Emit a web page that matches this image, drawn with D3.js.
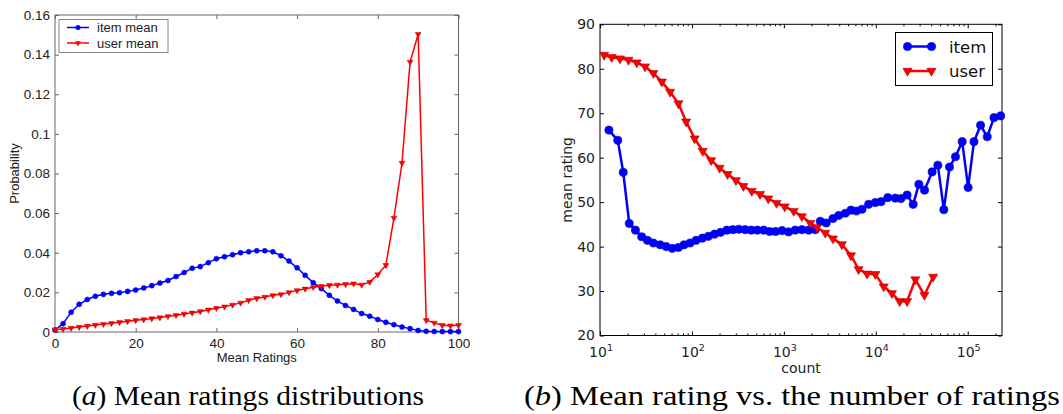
<!DOCTYPE html>
<html><head><meta charset="utf-8">
<script src="https://cdn.jsdelivr.net/npm/d3@7"></script>
<style>body{margin:0;background:#fff}svg{display:block}</style>
</head><body>
<svg id="c" width="1063" height="414"></svg>
<script>
// ---------- (a) data ----------
const leftX = [0,2,4,6,8,10,12,14,16,18,20,22,24,26,28,30,32,34,36,38,40,42,44,46,48,50,52,54,56,58,60,62,64,66,68,70,72,74,76,78,80,82,84,86,88,90,92,94,96,98,100];
const itemMeanProb = [0.001,0.0042,0.010,0.014,0.0164,0.018,0.019,0.0195,0.0198,0.0205,0.0212,0.0222,0.0234,0.0247,0.026,0.028,0.030,0.0322,0.033,0.035,0.037,0.038,0.039,0.040,0.0405,0.041,0.041,0.0405,0.0385,0.0358,0.0324,0.0286,0.0249,0.0219,0.0185,0.0156,0.0134,0.0114,0.0093,0.008,0.0063,0.0049,0.0037,0.0025,0.0017,0.0008,0.0004,0.0003,0.0002,0.0002,0.0002];
const userMeanProb = [0.0012,0.0015,0.0020,0.0025,0.0030,0.0035,0.0040,0.0044,0.0049,0.0054,0.0059,0.0063,0.0068,0.0073,0.0079,0.0085,0.0091,0.0097,0.0104,0.0112,0.0120,0.0128,0.0137,0.0147,0.0160,0.0170,0.0177,0.0185,0.0190,0.0200,0.0210,0.0218,0.0226,0.0231,0.0236,0.0238,0.0241,0.0244,0.0238,0.0252,0.0290,0.0337,0.0576,0.0853,0.1363,0.1503,0.0059,0.0046,0.0034,0.0032,0.0034];
const leftXTicks = [0,20,40,60,80,100];
const leftXTickLabels = ["0","20","40","60","80","100"];
const leftYTicks = [0,0.02,0.04,0.06,0.08,0.1,0.12,0.14,0.16];
const leftYTickLabels = ["0","0.02","0.04","0.06","0.08","0.1","0.12","0.14","0.16"];
const leftSeries = ["item mean","user mean"];

// ---------- (b) data ----------
const itemCount = [12.5,15.6,17.9,20.8,24.3,28.4,32.8,38.1,45.1,52.4,61.0,71.3,82.2,95.5,111,130,151,176,205,240,279,324,380,442,514,603,700,815,955,1125,1330,1570,1860,2200,2490,2890,3420,3950,4660,5370,6140,7080,8360,9890,11400,13500,16300,18800,21900,25500,29400,33900,41000,47300,55000,63400,73600,87100,101000,117000,138000,163000,193000,228000];
const itemRating = [66.2,63.9,56.7,45.2,43.7,42.2,41.4,40.8,40.4,40.0,39.6,39.8,40.4,40.8,41.4,41.9,42.3,42.8,43.2,43.7,43.8,43.9,43.8,43.7,43.7,43.7,43.4,43.4,43.6,43.3,43.7,43.8,43.7,43.8,45.7,45.3,46.3,47.0,47.5,48.2,48.0,48.4,49.5,49.9,50.1,51.0,50.9,50.8,51.6,49.5,54.0,52.7,56.8,58.3,48.3,57.9,60.2,63.6,53.3,63.6,67.3,64.7,69.0,69.4];
const userCount = [11.1,13.4,16.5,20.4,25.1,30.9,38.1,47.0,57.9,71.3,86.5,107,131,162,200,244,301,363,447,550,676,832,1020,1280,1570,1940,2290,2820,3420,4270,5370,6500,8020,9890,12200,15000,18200,21900,26900,33800,42100];
const userRating = [83.1,82.6,82.3,82.0,81.4,80.5,79.0,77.1,74.8,72.2,68.1,64.3,61.5,59.4,57.7,56.3,54.9,53.6,52.5,51.8,50.8,49.8,49.0,48.0,46.8,45.3,44.3,43.1,41.8,40.5,38.0,34.9,33.9,33.8,31.0,29.5,27.7,27.7,32.6,29.1,33.2];
const rightYTicks = [20,30,40,50,60,70,80,90];
const rightXTicks = [10,100,1000,10000,100000];
const rightXTickBase = "10";
const rightXTickExp = ["1","2","3","4","5"];
const rightSeries = ["item","user"];
const captionLetters = ["a","b"];
const captions = ["Mean ratings distributions","Mean rating vs. the number of ratings"];

const BLUE = "#0000ff", RED = "#ff0000";
const svg = d3.select("#c");

// ================= (a) =================
const xL = d3.scaleLinear().domain([0,100]).range([55,458.5]);
const yL = d3.scaleLinear().domain([0,0.16]).range([332,15]);
const gA = svg.append("g");
const LFONT = "Liberation Sans, Arial, Helvetica, sans-serif";
const axCol = "#666";

gA.append("rect").attr("x",xL(0)).attr("y",yL(0.16)).attr("width",xL(100)-xL(0)).attr("height",yL(0)-yL(0.16))
  .attr("fill","none").attr("stroke",axCol).attr("stroke-width",1);

function styleAxis(g, col, font, size, tcol){
  g.select(".domain").remove();
  g.selectAll(".tick line").attr("stroke",col);
  g.selectAll(".tick text").attr("fill",tcol).attr("font-family",font).attr("font-size",size);
}
gA.append("g").attr("transform",`translate(0,${yL(0)})`)
  .call(d3.axisBottom(xL).tickValues(leftXTicks).tickFormat((d,i)=>leftXTickLabels[i]).tickSize(-4).tickPadding(6))
  .call(g=>styleAxis(g,axCol,LFONT,13.5,"#222"));
gA.append("g").attr("transform",`translate(0,${yL(0.16)})`)
  .call(d3.axisTop(xL).tickValues(leftXTicks).tickFormat("").tickSize(-4))
  .call(g=>styleAxis(g,axCol,LFONT,13.5,"#222"));
gA.append("g").attr("transform",`translate(${xL(0)},0)`)
  .call(d3.axisLeft(yL).tickValues(leftYTicks).tickFormat((d,i)=>leftYTickLabels[i]).tickSize(-4).tickPadding(5))
  .call(g=>styleAxis(g,axCol,LFONT,13.5,"#222"));
gA.append("g").attr("transform",`translate(${xL(100)},0)`)
  .call(d3.axisRight(yL).tickValues(leftYTicks).tickFormat("").tickSize(-4))
  .call(g=>styleAxis(g,axCol,LFONT,13.5,"#222"));

gA.append("text").attr("x",(xL(0)+xL(100))/2).attr("y",362).attr("text-anchor","middle")
  .attr("font-family",LFONT).attr("font-size",13).attr("fill","#222").text("Mean Ratings");
gA.append("text").attr("transform",`translate(18.5,${(yL(0)+yL(0.16))/2}) rotate(-90)`).attr("text-anchor","middle")
  .attr("font-family",LFONT).attr("font-size",13).attr("fill","#222").text("Probability");

const lineL = d3.line().x((d,i)=>xL(leftX[i])).y(d=>yL(d));
const triDownS = d3.symbol(d3.symbolTriangle, 15);
const circS = d3.symbol(d3.symbolCircle, 20);
gA.append("path").datum(itemMeanProb).attr("d",lineL).attr("fill","none").attr("stroke",BLUE).attr("stroke-width",1.5);
gA.append("g").selectAll("path").data(itemMeanProb).join("path")
  .attr("transform",(d,i)=>`translate(${xL(leftX[i])},${yL(d)})`).attr("d",circS).attr("fill",BLUE).attr("stroke",BLUE).attr("stroke-width",0.5);
gA.append("path").datum(userMeanProb).attr("d",lineL).attr("fill","none").attr("stroke",RED).attr("stroke-width",1.5);
gA.append("g").selectAll("path").data(userMeanProb).join("path")
  .attr("transform",(d,i)=>`translate(${xL(leftX[i])},${yL(d)}) rotate(180)`).attr("d",triDownS).attr("fill",RED).attr("stroke","#d00000").attr("stroke-width",0.5);

// legend (a)
const legA = gA.append("g");
legA.append("rect").attr("x",59).attr("y",19.5).attr("width",109).attr("height",33).attr("fill","#fff").attr("stroke","#888").attr("stroke-width",1);
leftSeries.forEach((s,i)=>{
  const yy = 27.5 + i*15.5;
  const col = i===0?BLUE:RED;
  legA.append("line").attr("x1",67).attr("x2",89).attr("y1",yy).attr("y2",yy).attr("stroke",col).attr("stroke-width",1.5);
  legA.append("path").attr("transform",`translate(78,${yy})`+(i===1?" rotate(180)":"")).attr("d",i===0?circS:triDownS).attr("fill",col);
  legA.append("text").attr("x",97).attr("y",yy+4.5).attr("font-family",LFONT).attr("font-size",13).attr("fill","#222").text(s);
});

// ================= (b) =================
const xR = d3.scaleLog().domain([10,236000]).range([600,1002]);
const yR = d3.scaleLinear().domain([20,90]).range([335.5,24.3]);
const gB = svg.append("g");
const RFONT = "DejaVu Sans, sans-serif";

const minorTicks = xR.ticks().filter(v => !rightXTicks.includes(v));
gB.append("g").attr("transform",`translate(0,${yR(20)})`)
  .call(d3.axisBottom(xR).tickValues(rightXTicks).tickFormat("").tickSize(-4))
  .call(g=>styleAxis(g,"#000",RFONT,14,"#000"));
gB.append("g").attr("transform",`translate(0,${yR(20)})`)
  .call(d3.axisBottom(xR).tickValues(minorTicks).tickFormat("").tickSize(-2))
  .call(g=>styleAxis(g,"#000",RFONT,14,"#000"));
gB.append("g").attr("transform",`translate(0,${yR(90)})`)
  .call(d3.axisTop(xR).tickValues(rightXTicks).tickFormat("").tickSize(-4))
  .call(g=>styleAxis(g,"#000",RFONT,14,"#000"));
gB.append("g").attr("transform",`translate(0,${yR(90)})`)
  .call(d3.axisTop(xR).tickValues(minorTicks).tickFormat("").tickSize(-2))
  .call(g=>styleAxis(g,"#000",RFONT,14,"#000"));
gB.append("g").attr("transform",`translate(${xR.range()[0]},0)`)
  .call(d3.axisLeft(yR).tickValues(rightYTicks).tickFormat(d3.format("d")).tickSize(-4).tickPadding(5))
  .call(g=>styleAxis(g,"#000",RFONT,14,"#222"));
gB.append("g").attr("transform",`translate(${xR.range()[1]},0)`)
  .call(d3.axisRight(yR).tickValues(rightYTicks).tickFormat("").tickSize(-4))
  .call(g=>styleAxis(g,"#000",RFONT,14,"#222"));
gB.append("rect").attr("x",xR.range()[0]).attr("y",yR(90)).attr("width",xR.range()[1]-xR.range()[0]).attr("height",yR(20)-yR(90))
  .attr("fill","none").attr("stroke","#000").attr("stroke-width",1);

// log tick labels with superscripts
rightXTicks.forEach((v,i)=>{
  const t = gB.append("text").attr("x",xR(v)+1).attr("y",yR(20)+21).attr("text-anchor","middle")
    .attr("font-family",RFONT).attr("font-size",14).attr("fill","#222");
  t.append("tspan").text(rightXTickBase);
  t.append("tspan").attr("dy",-6).attr("font-size",9.5).text(rightXTickExp[i]);
});
gB.append("text").attr("x",(xR.range()[0]+xR.range()[1])/2).attr("y",373).attr("text-anchor","middle")
  .attr("font-family",RFONT).attr("font-size",14).attr("fill","#222").text("count");
gB.append("text").attr("transform",`translate(572,${(yR(20)+yR(90))/2}) rotate(-90)`).attr("text-anchor","middle")
  .attr("font-family",RFONT).attr("font-size",14).attr("fill","#222").text("mean rating");

const lineItem = d3.line().x((d,i)=>xR(itemCount[i])).y(d=>yR(d));
const lineUser = d3.line().x((d,i)=>xR(userCount[i])).y(d=>yR(d));
const circB = d3.symbol(d3.symbolCircle, 52);
const triB = d3.symbol(d3.symbolTriangle, 36);
gB.append("path").datum(itemRating).attr("d",lineItem).attr("fill","none").attr("stroke",BLUE).attr("stroke-width",2.5).attr("stroke-linejoin","round");
gB.append("g").selectAll("path").data(itemRating).join("path")
  .attr("transform",(d,i)=>`translate(${xR(itemCount[i])},${yR(d)})`).attr("d",circB).attr("fill",BLUE).attr("stroke","#0000b0").attr("stroke-width",0.6);
gB.append("path").datum(userRating).attr("d",lineUser).attr("fill","none").attr("stroke",RED).attr("stroke-width",2.5).attr("stroke-linejoin","round");
gB.append("g").selectAll("path").data(userRating).join("path")
  .attr("transform",(d,i)=>`translate(${xR(userCount[i])},${yR(d)}) rotate(180)`).attr("d",triB).attr("fill",RED).attr("stroke","#b00000").attr("stroke-width",0.6);

// legend (b)
const legB = gB.append("g");
legB.append("rect").attr("x",895.5).attr("y",32.5).attr("width",97).attr("height",53).attr("fill","#fff").attr("stroke","#000").attr("stroke-width",1);
rightSeries.forEach((s,i)=>{
  const yy = 46.5 + i*24.5;
  const col = i===0?BLUE:RED;
  legB.append("line").attr("x1",907.5).attr("x2",931.5).attr("y1",yy).attr("y2",yy).attr("stroke",col).attr("stroke-width",2.5);
  [907.5,931.5].forEach(px=>{
    legB.append("path").attr("transform",`translate(${px},${yy})`+(i===1?" rotate(180)":"")).attr("d",i===0?circB:triB)
      .attr("fill",col).attr("stroke",i===0?"#0000b0":"#b00000").attr("stroke-width",0.6);
  });
  legB.append("text").attr("x",949).attr("y",yy+6).attr("font-family",RFONT).attr("font-size",16.5).attr("fill","#111").text(s);
});

// ================= captions =================
const CFONT = "Liberation Serif, Times New Roman, serif";
const capPos = [{x:72,len:352},{x:524,len:536}];
captions.forEach((c,i)=>{
  const t = svg.append("text").attr("x",capPos[i].x).attr("y",405)
    .attr("textLength",capPos[i].len).attr("lengthAdjust","spacingAndGlyphs")
    .attr("font-family",CFONT).attr("font-size",27).attr("fill","#000");
  t.append("tspan").text("(");
  t.append("tspan").attr("font-style","italic").text(captionLetters[i]);
  t.append("tspan").text(") " + c);
});
</script>
</body></html>
